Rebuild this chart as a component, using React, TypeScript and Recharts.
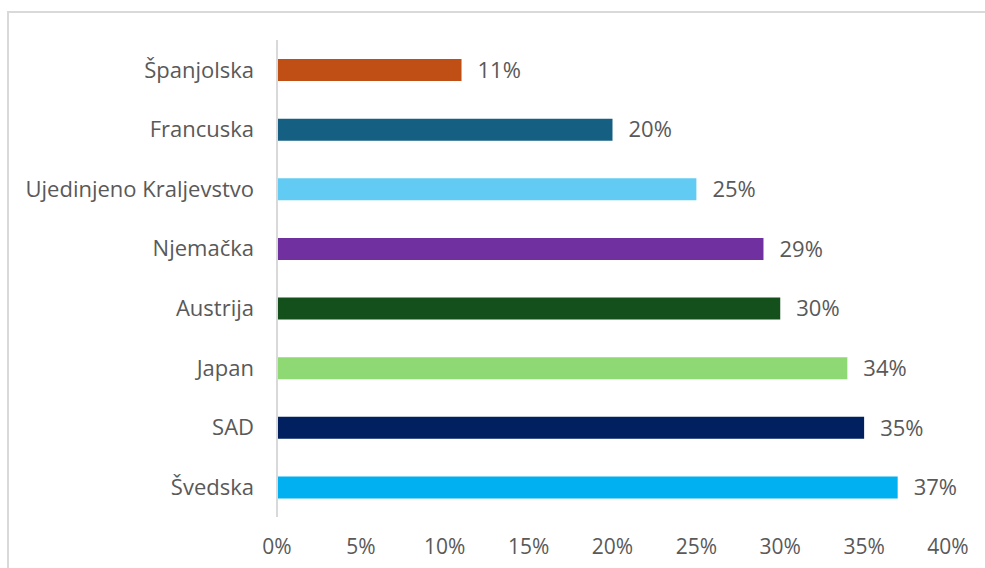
import { BarChart, Bar, XAxis, YAxis, Cell, LabelList } from "recharts";

const countries = [
  "Španjolska",
  "Francuska",
  "Ujedinjeno Kraljevstvo",
  "Njemačka",
  "Austrija",
  "Japan",
  "SAD",
  "Švedska",
];
const shares = [11, 20, 25, 29, 30, 34, 35, 37];
const barColors = ["#C04F15", "#156082", "#61CBF3", "#7030A0", "#13501B", "#8ED973", "#002060", "#00B0F0"];
const xTicks = [0, 5, 10, 15, 20, 25, 30, 35, 40];

const data = countries.map((name, i) => ({ name, value: shares[i] }));

const textColor = "#595959";
const font = "'Open Sans', 'Liberation Sans', sans-serif";

export default function App() {
  return (
    <div style={{ position: "absolute", left: 0, top: 0, width: 985, height: 568, overflow: "hidden", background: "#fff" }}>
      <div
        style={{
          position: "absolute",
          left: 7,
          top: 11,
          width: 990,
          height: 600,
          borderLeft: "2px solid #d9d9d9",
          borderTop: "2px solid #d9d9d9",
        }}
      />
      <BarChart
        width={985}
        height={568}
        data={data}
        layout="vertical"
        margin={{ top: 40, right: 37, bottom: 0, left: 0 }}
        style={{ position: "absolute", left: 0, top: 0, fontFamily: font }}
      >
        <XAxis
          type="number"
          domain={[0, 40]}
          ticks={xTicks}
          tickFormatter={(v) => `${v}%`}
          axisLine={false}
          tickLine={false}
          tickSize={0}
          tickMargin={22}
          height={51}
          tick={{ fill: textColor, fontSize: 21 }}
        />
        <YAxis
          type="category"
          dataKey="name"
          width={277}
          axisLine={{ stroke: "#d9d9d9", strokeWidth: 2 }}
          tickLine={false}
          tickSize={0}
          tickMargin={23}
          tick={{ fill: textColor, fontSize: 22 }}
          interval={0}
        />
        <Bar dataKey="value" barSize={22} isAnimationActive={false}>
          {data.map((d, i) => (
            <Cell key={d.name} fill={barColors[i]} />
          ))}
          <LabelList
            dataKey="value"
            position="right"
            offset={16}
            formatter={(v: number) => `${v}%`}
            style={{ fill: textColor, fontSize: 22 }}
          />
        </Bar>
      </BarChart>
    </div>
  );
}
